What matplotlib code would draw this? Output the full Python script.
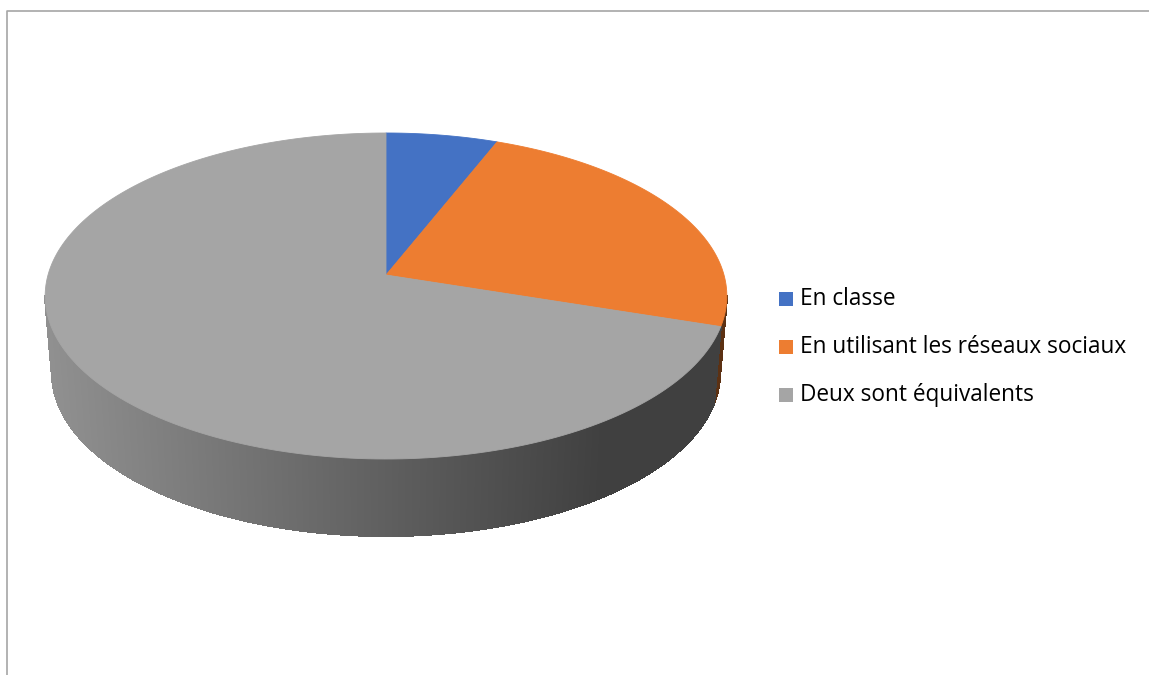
import numpy as np
import matplotlib
matplotlib.use("Agg")
import matplotlib.pyplot as plt
from matplotlib.collections import PolyCollection
from matplotlib.patches import Polygon, Rectangle
from matplotlib.colors import to_rgb

labels = ["En classe", "En utilisant les réseaux sociaux", "Deux sont équivalents"]
values = [6, 24, 70]
colors = ["#4472c4", "#ed7d31", "#a5a5a5"]

W, H = 1149, 675
fig = plt.figure(figsize=(W / 100, H / 100), dpi=100)
ax = fig.add_axes([0, 0, 1, 1])
ax.set_xlim(0, W)
ax.set_ylim(H, 0)
ax.axis("off")

# pie geometry (pixels): apex, perspective, thickness
cx, cy = 386, 275
a, b, c = 338, 160.3, -0.1288
depth = 77
shrink = 0.98


def top_pt(theta):
    # theta: clockwise angle from 12 o'clock, degrees
    phi = np.radians(theta - 90)
    u, v = np.cos(phi), np.sin(phi)
    return cx + a * u / (1 + c * v), cy + b * v / (1 + c * v)


def bot_pt(theta):
    x, y = top_pt(theta)
    return cx + (x - cx) * shrink, y + depth


def shade(x):
    return np.clip(0.87 - (x - 50) / 550 * 0.48, 0.39, 0.87)


fracs = np.array(values) / np.sum(values)
bounds = np.concatenate([[0], np.cumsum(fracs) * 360])

# visible side of the disc (front)
phi_edge = np.degrees(np.arcsin(-c))
th_lo, th_hi = 90 + phi_edge, 270 - phi_edge
polys, fcs = [], []
for i, col in enumerate(colors):
    s, e = max(bounds[i], th_lo), min(bounds[i + 1], th_hi)
    if e <= s:
        continue
    ts = np.linspace(s, e, int((e - s) * 6) + 2)
    rgb = np.array(to_rgb(col))
    for t0, t1 in zip(ts[:-1], ts[1:]):
        p = [top_pt(t0), top_pt(t1), bot_pt(t1), bot_pt(t0)]
        xm = (p[0][0] + p[1][0]) / 2
        polys.append(p)
        fcs.append(rgb * shade(xm))
ax.add_collection(PolyCollection(polys, facecolors=fcs, edgecolors=fcs,
                                 linewidths=0.8, antialiased=False))

# top face
for i, col in enumerate(colors):
    ts = np.linspace(bounds[i], bounds[i + 1], 200)
    pts = [(cx, cy)] + [top_pt(t) for t in ts]
    ax.add_patch(Polygon(pts, closed=True, facecolor=col, edgecolor=col,
                         linewidth=0.6))

# legend
for i, (lab, col) in enumerate(zip(labels, colors)):
    y = 299 + i * 48
    ax.add_patch(Rectangle((779, y - 7), 14, 14, facecolor=col,
                           edgecolor="none"))
    ax.text(800, y, lab, fontsize=16.3, family="Open Sans", va="center",
            ha="left", color="#000000")

# chart area border
ax.plot([7, 7, W + 5], [H + 5, 11, 11], color="#a6a6a6", linewidth=1.2,
        clip_on=False)

fig.savefig("out.png", dpi=100)
